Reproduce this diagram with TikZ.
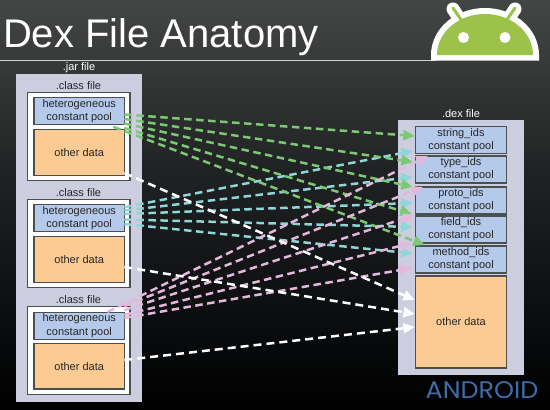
\documentclass[tikz,border=0pt]{standalone}
\usepackage{fontspec}
\setmainfont{Liberation Sans}
\newfontfamily\logofont{Poppins}
\usetikzlibrary{arrows.meta}
\definecolor{edgegrey}{HTML}{4A5050}
\definecolor{lav}{HTML}{CDCDE0}
\definecolor{poolblue}{HTML}{B5C9EA}
\definecolor{dataorange}{HTML}{FBCB93}
\definecolor{gline}{HTML}{7CC874}
\definecolor{cline}{HTML}{8FD6D8}
\definecolor{pline}{HTML}{E4B8DC}
\definecolor{droid}{HTML}{9DC24A}
\definecolor{logoblue}{HTML}{3F6CA8}
\definecolor{bgA}{RGB}{68,70,70}
\definecolor{bgB}{RGB}{56,58,58}
\definecolor{bgC}{RGB}{32,34,35}
\definecolor{bgD}{RGB}{13,15,17}
\tikzset{
  x=1pt,y=-1pt,
  every node/.style={outer sep=0pt,inner sep=0pt,font=\fontsize{11}{13.2}\selectfont,text=black!85},
  outerbox/.style={draw=none,fill=lav,minimum width=125.4,anchor=north west},
  classbox/.style={draw=edgegrey,line width=1.2,fill=white,minimum width=102.3,minimum height=88},
  pool/.style={draw=edgegrey,line width=1.2,fill=poolblue,minimum width=90.3,minimum height=27,align=center},
  datab/.style={draw=edgegrey,line width=1.2,fill=dataorange,minimum width=90.3,minimum height=45.5},
  lab/.style={text=black!85},
  link/.style={line width=2.5,dash pattern=on 7.5 off 4.5,-{Triangle[length=11.5,width=10]}},
  gl/.style={link,gline},
  cl/.style={link,cline},
  pl/.style={link,pline},
  wl/.style={link,white,dash pattern=on 8 off 5},
}
\begin{document}
\begin{tikzpicture}
\useasboundingbox (0,0) rectangle (550,410);
% background
\fill[top color=bgA,bottom color=bgB] (0,0) rectangle (550,62);
\fill[top color=bgB,bottom color=bgC] (0,61.5) rectangle (550,170);
\fill[top color=bgC,bottom color=bgD] (0,169.5) rectangle (550,300);
\fill[top color=bgD,bottom color=black] (0,299.5) rectangle (550,410);
% title
\node[anchor=base west,text=white,font=\fontsize{40}{42}\selectfont] (title) at (3,47) {Dex File Anatomy};
\draw[line width=1,draw=black!18] (0,60) -- (436,60);
% android head
\fill[white] (431,60.5) -- (431,55) arc[start angle=180,end angle=360,x radius=54,y radius=47] -- (539,60.5) -- cycle;
\draw[white,line width=13,line cap=round] (453,9) -- (463,24);
\draw[white,line width=13,line cap=round] (515,9) -- (505,24);
\draw[droid,line width=3,line cap=round] (453,8) -- (464,24);
\draw[droid,line width=3,line cap=round] (515,8) -- (504,24);
\fill[droid] (437,55) arc[start angle=180,end angle=360,x radius=48,y radius=41] -- cycle;
\fill[white] (463.5,37.5) circle[radius=5.5];
\fill[white] (505,37.5) circle[radius=5.5];
% jar
\node[anchor=base,text=white] (jarlabel) at (79,70) {.jar file};
\node[outerbox,minimum height=328.5] (jar) at (16.3,73.5) {};
\node[lab,anchor=base] (cl1) at (78.5,89) {.class file};
\node[classbox] (cb1) at (78.9,136.5) {};
\node[pool] (hp1) at (79.2,111.3) {heterogeneous\\constant pool};
\node[datab] (od1) at (79.2,152.5) {other data};
\node[lab,anchor=base] (cl2) at (78.5,196) {.class file};
\node[classbox] (cb2) at (78.9,243.8) {};
\node[pool] (hp2) at (79.2,218.2) {heterogeneous\\constant pool};
\node[datab] (od2) at (79.2,259.5) {other data};
\node[lab,anchor=base] (cl3) at (78.5,303) {.class file};
\node[classbox] (cb3) at (78.9,350.5) {};
\node[pool] (hp3) at (79.2,325.7) {heterogeneous\\constant pool};
\node[datab] (od3) at (79.2,366.3) {other data};
% dex
\node[anchor=base,text=white] (dexlabel) at (461,117) {.dex file};
\node[outerbox,minimum width=126,minimum height=255] (dex) at (398,120) {};
\node[pool] (strp) at (461,140.25) {string\_ids\\constant pool};
\node[pool] (typ) at (461,169.5) {type\_ids\\constant pool};
\node[pool] (prp) at (461,200.5) {proto\_ids\\constant pool};
\node[pool] (fip) at (461,229.5) {field\_ids\\constant pool};
\node[pool] (mep) at (461,259.5) {method\_ids\\constant pool};
\node[datab,minimum height=92] (dexod) at (461,322) {other data};
% connectors
\draw[cl] ([shift={(0,-11)}]hp2.east) -- ([shift={(-3,10.75)}]strp.west);
\draw[cl] ([shift={(0,-7.7)}]hp2.east) -- ([shift={(-3,7.5)}]typ.west);
\draw[cl] ([shift={(0,-4.2)}]hp2.east) -- ([shift={(-3,2.5)}]prp.west);
\draw[cl] ([shift={(0,1.3)}]hp2.east) -- ([shift={(-3,-2.5)}]fip.west);
\draw[cl] ([shift={(0,5.8)}]hp2.east) -- ([shift={(-3,-6)}]mep.west);
\draw[gl] ([shift={(0,3.2)}]hp1.east) -- ([shift={(-1,-4.25)}]strp.west);
\draw[gl] ([shift={(0,7.7)}]hp1.east) -- ([shift={(-3,-7.5)}]typ.west);
\draw[gl] ([shift={(0,12.2)}]hp1.east) -- ([shift={(-3,-13.5)}]prp.west);
\draw[gl] ([shift={(0,16.7)}]hp1.east) -- ([shift={(-4,-15.5)}]fip.west);
\draw[gl] ([shift={(-11,15.5)}]hp1.east) -- ([shift={(9,-14.5)}]mep.west);
\draw[pl] ([shift={(-17,-13.7)}]hp3.east) -- ([shift={(12,15.75)}]strp.west);
\draw[pl] ([shift={(0,-19.7)}]hp3.east) -- ([shift={(7,17.5)}]typ.west);
\draw[pl] ([shift={(0,-15.7)}]hp3.east) -- ([shift={(-1,14.5)}]prp.west);
\draw[pl] ([shift={(0,-10.7)}]hp3.east) -- ([shift={(-4,13.5)}]fip.west);
\draw[pl] ([shift={(0,-7.7)}]hp3.east) -- ([shift={(-4,8.5)}]mep.west);
\draw[wl] ([shift={(0,20.5)}]od1.east) -- ([shift={(-1,-22)}]dexod.west);
\draw[wl] ([shift={(0,7.5)}]od2.east) -- ([shift={(-1,-8)}]dexod.west);
\draw[wl] ([shift={(0,-6.3)}]od3.east) -- ([shift={(-1,5)}]dexod.west);
% android wordmark
\node[text=logoblue,xscale=1.06,font=\logofont\fontsize{24}{25}\selectfont] (wordmark) at (482,390) {ANDROID};
\end{tikzpicture}
\end{document}
